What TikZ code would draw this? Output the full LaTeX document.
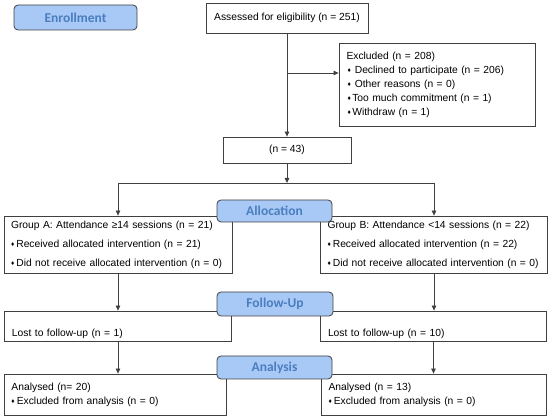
\documentclass[tikz,border=0pt]{standalone}
\usepackage{fontspec}
\setmainfont{Liberation Sans}
\newfontfamily\calibri{Carlito}
\usetikzlibrary{arrows.meta}

\definecolor{stagefill}{RGB}{168,200,246}
\definecolor{stagetext}{RGB}{74,126,190}
\definecolor{linegray}{RGB}{64,64,64}

% kleine Raute als Aufzaehlungszeichen
\newcommand{\dia}{{\fontsize{6.5}{7}\selectfont\raisebox{0.8pt}{♦}}}

\begin{document}
\begin{tikzpicture}[x=1pt, y=-1pt, >={Triangle[length=5pt,width=4.5pt]},
    box/.style={draw=linegray, line width=0.8pt, fill=white, align=left,
        inner xsep=7.5pt, inner ysep=0pt, font=\fontsize{10.3}{14}\selectfont},
    widebox/.style={box, font=\fontsize{10.3}{19}\selectfont},
    stage/.style={draw=linegray, line width=0.8pt, fill=stagefill, rounded corners=4pt,
        inner sep=0pt, text=stagetext, font=\calibri\bfseries\fontsize{13.5}{14}\selectfont},
    link/.style={draw=linegray, line width=0.8pt}]

    \useasboundingbox (0,0) rectangle (550,419);

    % Erfassung
    \node[box, align=center, minimum width=162pt, minimum height=30pt] (assess) at (287,18)
        {Assessed for eligibility (n = 251)};
    \node[box, text width=181pt, minimum height=83pt] (excl) at (437,84.5)
        {Excluded (n = 208)\\
         \hspace*{1pt}\dia\hspace{4pt}Declined to participate (n = 206)\\
         \hspace*{1pt}\dia\hspace{4pt}Other reasons (n = 0)\\
         \hspace*{1pt}\dia\hspace{1.5pt}Too much commitment (n = 1)\\
         \hspace*{1pt}\dia\hspace{1.5pt}Withdraw (n = 1)};
    \node[box, align=center, minimum width=128pt, minimum height=26pt] (n43) at (287,150)
        {(n = 43)};

    % Gruppen
    \node[widebox, text width=214pt, inner xsep=7pt, minimum height=57pt] (grpA) at (118,244.5)
        {Group A: Attendance ≥14 sessions (n = 21)\\
         \dia\hspace{2pt}Received allocated intervention (n = 21)\\
         \mbox{\dia\hspace{2pt}Did not receive allocated intervention (n = 0)}};
    \node[widebox, text width=213pt, inner xsep=7pt, minimum height=57pt] (grpB) at (434,244.5)
        {Group B: Attendance <14 sessions (n = 22)\\
         \dia\hspace{2pt}Received allocated intervention (n = 22)\\
         \mbox{\dia\hspace{2pt}Did not receive allocated intervention (n = 0)}};

    % Nachbeobachtung
    \node[box, text width=212pt, minimum height=30pt] (lostA) at (118,326)
        {\rule{0pt}{24pt}Lost to follow-up (n = 1)};
    \node[box, text width=211pt, minimum height=30pt] (lostB) at (433.5,326)
        {\rule{0pt}{24pt}Lost to follow-up (n = 10)};

    % Auswertung
    \node[box, text width=207pt, minimum height=41pt] (anA) at (115,394.5)
        {Analysed (n= 20)\\
         \dia\hspace{2pt}Excluded from analysis (n = 0)};
    \node[box, text width=210pt, minimum height=41pt] (anB) at (433.5,394.5)
        {Analysed (n = 13)\\
         \dia\hspace{2pt}Excluded from analysis (n = 0)};

    % Verbindungen
    \coordinate (exclbranch) at (287,73);
    \coordinate (split) at (287,183);
    \draw[link,->] (assess.south) -- (n43.north);
    \draw[link,->] (exclbranch) -- (exclbranch -| excl.west);
    \draw[link,->] (n43.south) -- (split);
    \draw[link] (grpA.north |- split) -- (grpB.north |- split);
    \draw[link,->] (grpA.north |- split) -- (grpA.north);
    \draw[link,->] (grpB.north |- split) -- (grpB.north);
    \draw[link,->] (grpA.south) -- (grpA.south |- lostA.north);
    \draw[link,->] (grpB.south) -- (grpB.south |- lostB.north);
    \draw[link,->] (lostA.south) -- (lostA.south |- anA.north);
    \draw[link,->] (lostB.south) -- (lostB.south |- anB.north);

    % Phasen
    \node[stage, minimum width=123pt, minimum height=25pt] (enrol) at (75.5,17.5) {Enrollment};
    \node[stage, minimum width=115pt, minimum height=22pt] (alloc) at (274.5,211) {Allocation};
    \node[stage, minimum width=116pt, minimum height=24pt] (follow) at (275,304) {Follow-Up};
    \node[stage, minimum width=115pt, minimum height=23pt] (analysis) at (274.5,367.5) {Analysis};
\end{tikzpicture}
\end{document}
